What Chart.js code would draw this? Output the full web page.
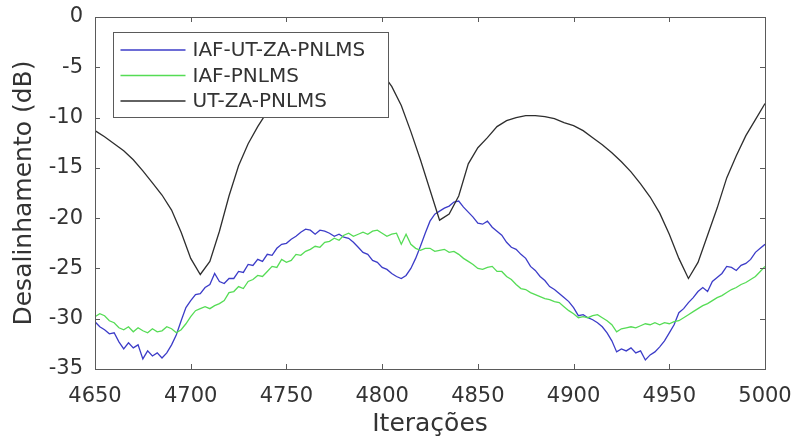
<!DOCTYPE html>
<html>
<head>
<meta charset="utf-8">
<script src="https://cdn.jsdelivr.net/npm/chart.js@4.4.1/dist/chart.umd.min.js"></script>
<style>
  html, body { margin: 0; padding: 0; background: #fff; }
</style>
</head>
<body>
<canvas id="myChart" width="797" height="441"></canvas>
<script>
// iterations start at 4650; the adaptive curves are sampled every 2.5, UT-ZA every 5
const inicio = 4650;
const passoRuido = 2.5;
const passoUT = 5;

const nomes = ['IAF-UT-ZA-PNLMS', 'IAF-PNLMS', 'UT-ZA-PNLMS'];
const cores = ['#3c3cc8', '#55dc55', '#2e2e2e'];

const iafUtZa = [
  -30.3, -30.8, -31.1, -31.5, -31.4, -32.3, -33.0, -32.4, -32.9, -32.6,
  -34.0, -33.2, -33.7, -33.4, -33.9, -33.4, -32.6, -31.6, -30.2, -28.9,
  -28.2, -27.6, -27.5, -26.9, -26.6, -25.5, -26.3, -26.5, -26.0, -26.0,
  -25.3, -25.4, -24.6, -24.7, -24.1, -24.3, -23.6, -23.7, -23.0, -22.6,
  -22.5, -22.1, -21.8, -21.4, -21.1, -21.2, -21.6, -21.2, -21.3, -21.5,
  -21.8, -21.6, -21.9, -22.0, -22.4, -22.9, -23.4, -23.6, -24.2, -24.4,
  -24.9, -25.1, -25.5, -25.8, -26.0, -25.7, -25.0, -24.0, -22.8, -21.5,
  -20.3, -19.6, -19.3, -19.0, -18.8, -18.4, -18.3, -18.9, -19.4, -19.9,
  -20.5, -20.6, -20.3, -20.9, -21.3, -21.7, -22.4, -22.9, -23.1, -23.6,
  -24.0, -24.8, -25.2, -25.8, -26.2, -26.8, -27.1, -27.5, -27.9, -28.3,
  -28.9, -29.7, -29.6, -29.9, -30.1, -30.4, -30.8, -31.4, -32.2, -33.3,
  -33.0, -33.2, -32.9, -33.4, -33.2, -34.1, -33.6, -33.3, -32.8, -32.2,
  -31.4, -30.6, -29.4, -29.0, -28.4, -27.9, -27.3, -26.9, -27.3, -26.3,
  -25.9, -25.5, -24.8, -24.9, -25.2, -24.7, -24.5, -24.1, -23.4, -23.0,
  -22.6
];

const iafPnlms = [
  -29.8, -29.5, -29.7, -30.2, -30.4, -30.9, -31.1, -30.8, -31.3, -30.9,
  -31.2, -31.4, -31.0, -31.3, -31.2, -30.8, -31.0, -31.4, -31.1, -30.5,
  -29.8, -29.2, -29.0, -28.8, -29.0, -28.7, -28.5, -28.2, -27.4, -27.3,
  -26.8, -27.0, -26.3, -26.1, -25.7, -25.8, -25.3, -24.8, -24.9, -24.1,
  -24.4, -24.2, -23.6, -23.7, -23.3, -23.1, -22.8, -22.9, -22.4, -22.3,
  -22.0, -22.2, -21.7, -21.5, -21.8, -21.6, -21.4, -21.6, -21.3, -21.2,
  -21.5, -21.8, -21.6, -21.5, -22.6, -21.6, -22.6, -23.0, -23.2, -23.0,
  -23.0, -23.3, -23.2, -23.1, -23.4, -23.3, -23.6, -24.0, -24.3, -24.6,
  -25.0, -25.1, -24.9, -24.8, -25.3, -25.3, -25.8, -26.1, -26.6, -27.0,
  -27.1, -27.4, -27.6, -27.8, -28.0, -28.1, -28.3, -28.4, -28.8, -29.2,
  -29.5, -29.9, -29.8, -29.9, -29.7, -29.6, -29.9, -30.2, -30.6, -31.3,
  -31.0, -30.9, -30.8, -30.9, -30.7, -30.5, -30.6, -30.4, -30.6, -30.4,
  -30.5, -30.3, -30.2, -29.9, -29.6, -29.3, -29.0, -28.7, -28.5, -28.2,
  -27.9, -27.7, -27.4, -27.1, -26.9, -26.6, -26.4, -26.1, -25.8, -25.3,
  -24.8
];

const utZa = [
  -11.3, -11.9, -12.6, -13.3, -14.2, -15.3, -16.5, -17.7, -19.2, -21.4,
  -24.0, -25.6, -24.3, -21.3, -17.8, -14.8, -12.6, -10.9, -9.4, -7.9,
  -6.6, -5.4, -4.4, -3.6, -3.0, -2.7, -2.8, -3.2, -3.9, -4.8,
  -5.6, -6.9, -8.8, -11.4, -14.2, -17.2, -20.2, -19.6, -17.8, -14.6,
  -13.0, -12.0, -10.9, -10.3, -10.0, -9.8, -9.8, -9.9, -10.1, -10.5,
  -10.8, -11.3, -12.0, -12.7, -13.5, -14.4, -15.4, -16.6, -17.9, -19.5,
  -21.6, -24.0, -26.0, -24.4, -21.7, -19.0, -16.0, -13.8, -11.8, -10.2,
  -8.6
];

const xTicks = [4650, 4700, 4750, 4800, 4850, 4900, 4950, 5000];
const yTicks = [-35, -30, -25, -20, -15, -10, -5, 0];

const toPoints = (vals, step) => vals.map((y, i) => ({ x: inicio + i * step, y }));

const fonte = '"DejaVu Sans", sans-serif';
const corTexto = '#333';
const corEixo = '#5a5a5a';

// box around the plot area with inward tick marks on all four sides
const moldura = {
  id: 'moldura',
  afterDatasetsDraw(chart) {
    const { ctx, chartArea: a, scales } = chart;
    const len = 5;
    ctx.save();
    ctx.strokeStyle = corEixo;
    ctx.lineWidth = 1;
    ctx.strokeRect(a.left + 0.5, a.top + 0.5, a.right - a.left, a.bottom - a.top);
    ctx.beginPath();
    scales.x.ticks.forEach(t => {
      const px = Math.round(scales.x.getPixelForValue(t.value)) + 0.5;
      ctx.moveTo(px, a.top); ctx.lineTo(px, a.top + len);
      ctx.moveTo(px, a.bottom); ctx.lineTo(px, a.bottom - len);
    });
    scales.y.ticks.forEach(t => {
      const py = Math.round(scales.y.getPixelForValue(t.value)) + 0.5;
      ctx.moveTo(a.left, py); ctx.lineTo(a.left + len, py);
      ctx.moveTo(a.right, py); ctx.lineTo(a.right - len, py);
    });
    ctx.stroke();
    ctx.restore();
  }
};

// legend box inside the top-left of the plot, drawn over the curves
const legendaInterna = {
  id: 'legendaInterna',
  afterDatasetsDraw(chart) {
    const { ctx, chartArea: a } = chart;
    const bx = a.left + 18.5, by = a.top + 15.5, bw = 275, bh = 85;
    ctx.save();
    ctx.fillStyle = '#fff';
    ctx.fillRect(bx, by, bw, bh);
    ctx.strokeStyle = corEixo;
    ctx.lineWidth = 1;
    ctx.strokeRect(bx, by, bw, bh);
    ctx.font = '20px ' + fonte;
    ctx.textBaseline = 'middle';
    ctx.textAlign = 'left';
    chart.data.datasets.forEach((ds, i) => {
      const y = by + 17.5 + i * 25.5;
      ctx.strokeStyle = ds.borderColor;
      ctx.lineWidth = 1.3;
      ctx.beginPath();
      ctx.moveTo(bx + 7, y);
      ctx.lineTo(bx + 72, y);
      ctx.stroke();
      ctx.fillStyle = corTexto;
      ctx.fillText(ds.label, bx + 79, y + 1);
    });
    ctx.restore();
  }
};

const ctx = document.getElementById('myChart').getContext('2d');
new Chart(ctx, {
  type: 'line',
  data: {
    datasets: [
      { label: nomes[0], data: toPoints(iafUtZa, passoRuido), borderColor: cores[0], order: 3 },
      { label: nomes[1], data: toPoints(iafPnlms, passoRuido), borderColor: cores[1], order: 2 },
      { label: nomes[2], data: toPoints(utZa, passoUT), borderColor: cores[2], order: 1 }
    ].map(d => Object.assign(d, { borderWidth: 1.3, pointRadius: 0, tension: 0, fill: false }))
  },
  options: {
    responsive: false,
    animation: false,
    devicePixelRatio: 1,
    layout: { padding: { top: 17, right: 32, left: 0, bottom: 0 } },
    plugins: {
      legend: { display: false },
      tooltip: { enabled: false }
    },
    scales: {
      x: {
        type: 'linear',
        min: 4650,
        max: 5000,
        afterBuildTicks: s => { s.ticks = xTicks.map(value => ({ value })); },
        afterFit: s => { s.height = 72; s.paddingLeft = 0; s.paddingRight = 0; },
        grid: { display: false, drawTicks: false },
        border: { display: false },
        ticks: {
          autoSkip: false,
          maxRotation: 0,
          padding: 15,
          color: corTexto,
          font: { family: fonte, size: 21 },
          callback: v => String(v)
        },
        title: {
          display: true,
          text: 'Iterações',
          color: corTexto,
          font: { family: fonte, size: 25 },
          padding: { top: 0, bottom: 2 }
        }
      },
      y: {
        min: -35,
        max: 0,
        afterBuildTicks: s => { s.ticks = yTicks.map(value => ({ value })); },
        afterFit: s => { s.width = 95; s.paddingTop = 0; s.paddingBottom = 0; },
        grid: { display: false, drawTicks: false },
        border: { display: false },
        ticks: {
          padding: 12,
          color: corTexto,
          font: { family: fonte, size: 21 },
          callback: v => String(v)
        },
        title: {
          display: true,
          text: 'Desalinhamento (dB)',
          color: corTexto,
          font: { family: fonte, size: 25 },
          padding: { top: 9, bottom: 0 }
        }
      }
    }
  },
  plugins: [moldura, legendaInterna]
});
</script>
</body>
</html>
